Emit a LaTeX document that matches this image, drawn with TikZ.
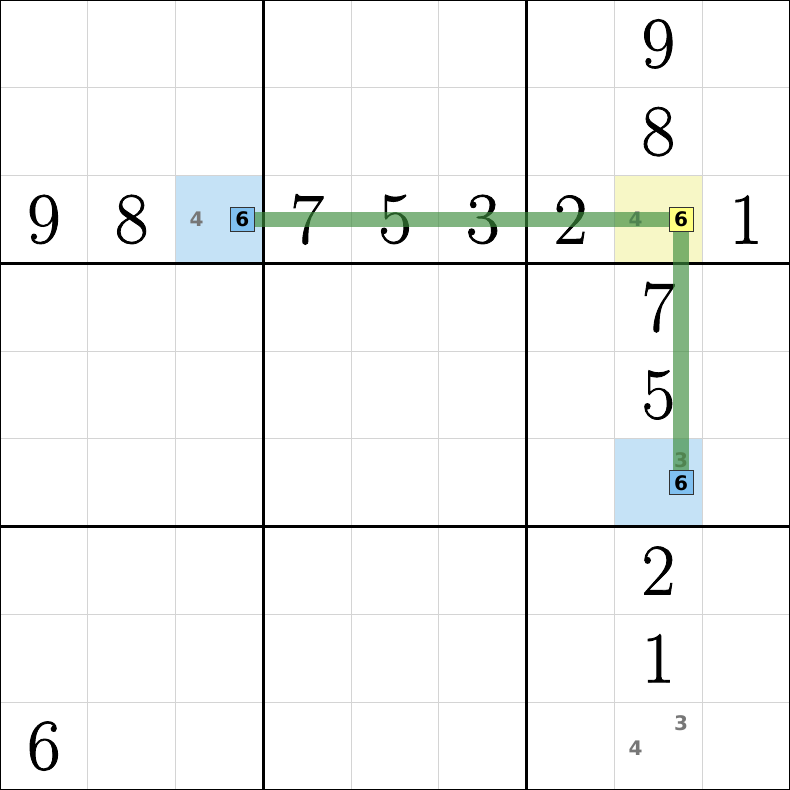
\documentclass[tikz,border=0pt]{standalone}
\usepackage{fontspec}
\newfontfamily\candfont{DejaVu Sans}
\newfontfamily\givenfont{Latin Modern Roman}[FakeBold=1.2]
\definecolor{cellblue}{HTML}{C5E2F6}
\definecolor{cellyellow}{HTML}{F7F7C6}
\definecolor{boxblue}{HTML}{80C0F0}
\definecolor{boxyellow}{HTML}{FFFF80}
\definecolor{candgray}{HTML}{777777}
\definecolor{chaingreen}{HTML}{3C8C3C}
\definecolor{thingrid}{HTML}{D4D4D4}
\tikzset{
  given/.style={font=\givenfont\fontsize{23.5}{23.5}\selectfont, inner sep=0pt, anchor=center},
  cand/.style={font=\candfont\bfseries\fontsize{6.5}{6.5}\selectfont, text=candgray, inner sep=0pt},
  boxcand/.style={font=\candfont\bfseries\fontsize{6.5}{6.5}\selectfont, text=black, draw=black!80, line width=0.35pt, minimum size=0.275cm, inner sep=0pt},
  chain/.style={draw=chaingreen, opacity=0.65, line width=0.178cm, line cap=butt, line join=miter},
  thin/.style={draw=thingrid, line width=0.3pt},
  thick/.style={draw=black, line width=0.8pt}
}
\begin{document}
\begin{tikzpicture}
\useasboundingbox (0,0) rectangle (9,9);
% cell highlights (row r, col c -> x=c, y=8-r)
\fill[cellblue] (2,6) rectangle (3,7);
\fill[cellyellow] (7,6) rectangle (8,7);
\fill[cellblue] (7,3) rectangle (8,4);
% thin grid
\foreach \i in {1,2,4,5,7,8} {
  \draw[thin] (\i,0) -- (\i,9);
  \draw[thin] (0,\i) -- (9,\i);
}
% thick grid
\foreach \i in {3,6} {
  \draw[thick] (\i,0) -- (\i,9);
  \draw[thick] (0,\i) -- (9,\i);
}
\draw[thick] (0,0) rectangle (9,9);
% givens
\node[given] (g07) at (7.5,8.5) {9};
\node[given] (g17) at (7.5,7.5) {8};
\node[given] (g20) at (0.5,6.5) {9};
\node[given] (g21) at (1.5,6.5) {8};
\node[given] (g23) at (3.5,6.5) {7};
\node[given] (g24) at (4.5,6.5) {5};
\node[given] (g25) at (5.5,6.5) {3};
\node[given] (g26) at (6.5,6.5) {2};
\node[given] (g28) at (8.5,6.5) {1};
\node[given] (g37) at (7.5,5.5) {7};
\node[given] (g47) at (7.5,4.5) {5};
\node[given] (g67) at (7.5,2.5) {2};
\node[given] (g77) at (7.5,1.5) {1};
\node[given] (g80) at (0.5,0.5) {6};
% candidates
\node[cand] (c22a) at (2.24,6.5) {4};
\node[cand] (c27a) at (7.24,6.5) {4};
\node[cand] (c57a) at (7.76,3.76) {3};
\node[cand] (c87a) at (7.76,0.76) {3};
\node[cand] (c87b) at (7.24,0.48) {4};
% chain anchors
\coordinate (p1) at (2.76,6.5);
\coordinate (p2) at (7.76,6.5);
\coordinate (p3) at (7.76,3.5);
\draw[chain] (p1) -- (p2) -- (p3);
% boxed candidates
\node[boxcand, fill=boxblue] (b22) at (p1) {6};
\node[boxcand, fill=boxyellow] (b27) at (p2) {6};
\node[boxcand, fill=boxblue] (b57) at (p3) {6};
\end{tikzpicture}
\end{document}
